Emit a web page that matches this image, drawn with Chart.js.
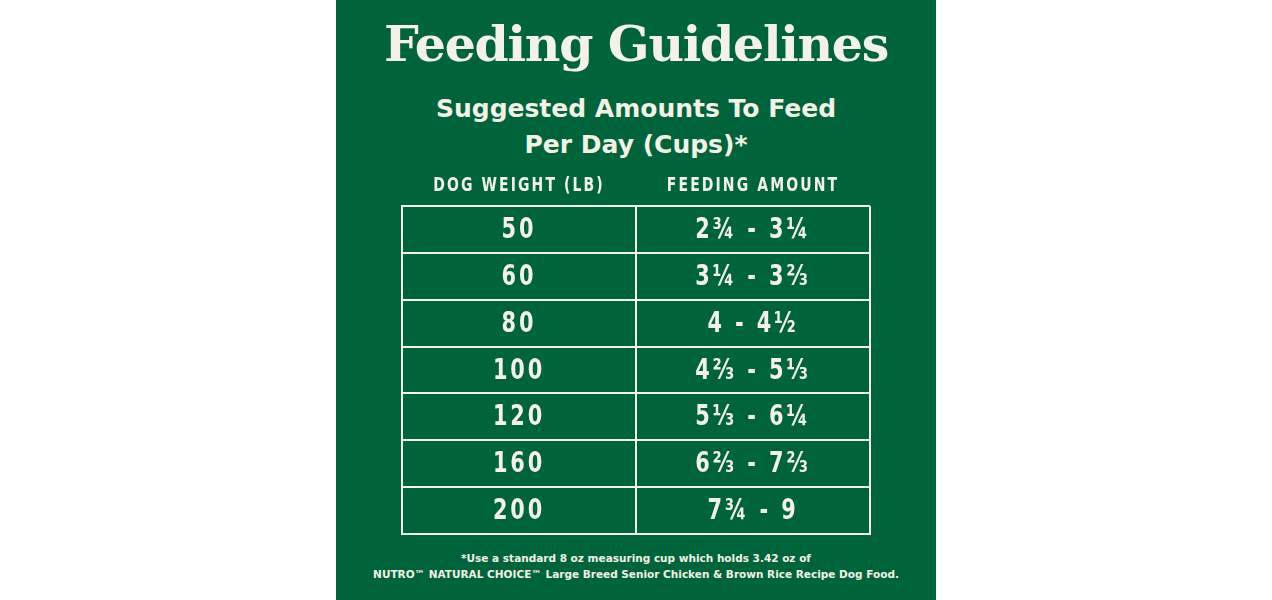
<!DOCTYPE html>
<html lang="en">
<head>
<meta charset="UTF-8">
<title>Feeding Guidelines</title>
<script src="https://cdn.jsdelivr.net/npm/chart.js"></script>
<style>
  body { margin: 0; background: #fff; width: 1272px; height: 600px; overflow: hidden; }
  .panel {
    position: absolute; left: 336px; top: 0; width: 600px; height: 600px;
    background: #00643a; color: #f4f1e6; text-align: center;
    font-family: "DejaVu Sans", sans-serif;
  }
  .panel h1 {
    margin: 0; position: absolute; top: 15px; width: 100%;
    font-family: "DejaVu Serif", serif; font-size: 49px; font-weight: bold; letter-spacing: -1.3px;
  }
  .panel h2 {
    margin: 0; position: absolute; top: 91px; width: 100%;
    font-size: 25px; font-weight: bold; line-height: 36px;
  }
  .panel .note {
    position: absolute; top: 550px; width: 100%;
    font-size: 10.5px; font-weight: bold; line-height: 16px;
  }
  .wrap { position: absolute; left: 65px; top: 165px; width: 470px; height: 370px; }
</style>
</head>
<body>
<div class="panel">
  <h1>Feeding Guidelines</h1>
  <h2>Suggested Amounts To Feed<br>Per Day (Cups)*</h2>
  <div class="wrap"><canvas id="tbl"></canvas></div>
  <div class="note">*Use a standard 8 oz measuring cup which holds 3.42 oz of<br>NUTRO™ NATURAL CHOICE™ Large Breed Senior Chicken &amp; Brown Rice Recipe Dog Food.</div>
</div>
<script>
  const columns = ['DOG WEIGHT (LB)', 'FEEDING AMOUNT'];
  const weights = ['50', '60', '80', '100', '120', '160', '200'];
  const amounts = ['2¾ - 3¼', '3¼ - 3⅔', '4 - 4½', '4⅔ - 5⅓', '5⅓ - 6¼', '6⅔ - 7⅔', '7¾ - 9'];

  const ink = '#f4f1e6';
  // condensed look: squeeze text horizontally
  function narrowText(ctx, txt, px, py, sx) {
    ctx.save();
    ctx.translate(px, py);
    ctx.scale(sx, 1);
    ctx.fillText(txt, 0, 0);
    ctx.restore();
  }
  const cellText = {
    id: 'cellText',
    afterDraw(chart) {
      const { ctx, scales: { x, y }, chartArea } = chart;
      ctx.save();
      ctx.fillStyle = ink;
      ctx.textAlign = 'center';
      ctx.textBaseline = 'middle';
      ctx.font = 'bold 20px "DejaVu Sans", sans-serif';
      ctx.letterSpacing = '3px';
      columns.forEach((c, i) => narrowText(ctx, c, x.getPixelForValue(i), chartArea.top - 20, 0.7));
      ctx.font = 'bold 29px "DejaVu Sans", sans-serif';
      ctx.letterSpacing = '4px';
      weights.forEach((w, i) => {
        const py = y.getPixelForValue(i) + 1;
        narrowText(ctx, w, x.getPixelForValue(0), py, 0.72);
        narrowText(ctx, amounts[i], x.getPixelForValue(1), py, 0.72);
      });
      ctx.restore();
    }
  };

  new Chart(document.getElementById('tbl'), {
    type: 'bar',
    data: { labels: columns, datasets: [{ data: [], yAxisID: 'y' }] },
    options: {
      responsive: true, maintainAspectRatio: false, animation: false,
      layout: { padding: { top: 41, left: 1, right: 1, bottom: 1 } },
      plugins: { legend: { display: false }, tooltip: { enabled: false } },
      scales: {
        x: {
          type: 'category', labels: columns, offset: true,
          grid: { offset: true, color: ink, lineWidth: 2, drawTicks: false },
          border: { display: true, color: ink, width: 2 },
          ticks: { display: false }
        },
        y: {
          type: 'category', labels: weights, offset: true,
          grid: { offset: true, color: ink, lineWidth: 2, drawTicks: false },
          border: { display: true, color: ink, width: 2 },
          ticks: { display: false }
        }
      }
    },
    plugins: [cellText]
  });
</script>
</body>
</html>
